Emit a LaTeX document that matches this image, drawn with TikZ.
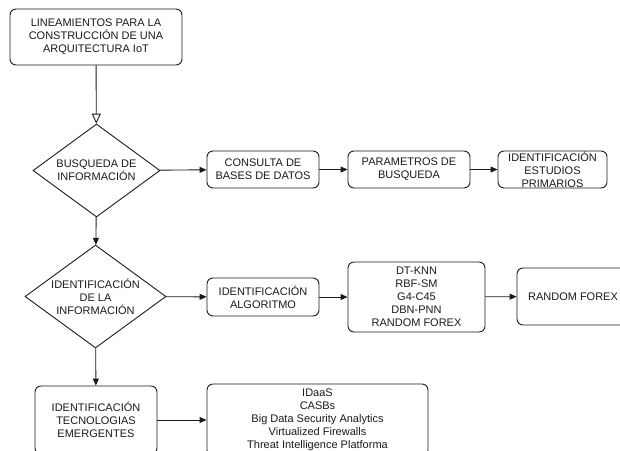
\documentclass[tikz,border=0pt]{standalone}
\usepackage{fontspec}
\setmainfont{Liberation Sans}
\usetikzlibrary{shapes.geometric, arrows.meta, positioning}
\definecolor{ink}{HTML}{1A1A1A}

\begin{document}
\begin{tikzpicture}[
    x=1pt, y=-1pt,
    box/.style={rounded corners=6pt, draw=ink, line width=0.9pt, align=center, inner sep=1pt, text=ink, font=\fontsize{11}{13}\selectfont},
    decision/.style={diamond, draw=ink, line width=0.9pt, inner sep=0pt},
    txt/.style={align=center, text=ink, font=\fontsize{11}{13}\selectfont},
    edge/.style={-{Triangle[length=7pt, width=6pt]}, line width=0.9pt, draw=ink},
    open/.style={-{Triangle[open, length=10pt, width=9pt]}, line width=0.9pt, draw=ink},
]
\path[use as bounding box, clip] (0,0) rectangle (620,450);

\node[box, minimum width=172pt, minimum height=56pt] (lin) at (96,37) {LINEAMIENTOS PARA LA\\CONSTRUCCIÓN DE UNA\\ARQUITECTURA IoT};

\node[decision, minimum width=127pt, minimum height=93pt, label={[txt]center:BUSQUEDA DE\\INFORMACIÓN}] (bus) at (96.5,170.5) {};
\node[box, minimum width=112pt, minimum height=37pt] (con) at (263,169.5) {CONSULTA DE\\BASES DE DATOS};
\node[box, minimum width=122pt, minimum height=37pt] (par) at (409,169.5) {PARAMETROS DE\\BUSQUEDA};
\node[box, minimum width=109pt, minimum height=37pt, inner ysep=0pt] (est) at (552.5,169.5) {IDENTIFICACIÓN\\ESTUDIOS\\PRIMARIOS};

\node[decision, minimum width=141pt, minimum height=103pt, label={[txt]center:IDENTIFICACIÓN\\DE LA\\INFORMACIÓN}] (ide) at (95.5,296.5) {};
\node[box, minimum width=112pt, minimum height=38pt] (alg) at (263,297) {IDENTIFICACIÓN\\ALGORITMO};
\node[box, minimum width=137pt, minimum height=70pt] (lst) at (416.5,297) {DT-KNN\\RBF-SM\\G4-C45\\DBN-PNN\\RANDOM FOREX};
\node[box, minimum width=112pt, minimum height=57pt] (rf) at (573,296.5) {RANDOM FOREX};

\node[box, minimum width=122pt, minimum height=68pt] (tec) at (96,420) {IDENTIFICACIÓN\\TECNOLOGIAS\\EMERGENTES};
\node[box, minimum width=221pt, minimum height=72pt] (herr) at (317.5,420) {IDaaS\\CASBs\\Big Data Security Analytics\\Virtualized Firewalls\\Threat Intelligence Platforma};

\draw[open] (lin) -- (bus);
\draw[edge] (bus) -- (con);
\draw[edge] (con) -- (par);
\draw[edge] (par) -- (est);
\draw[edge] (bus) -- (ide);
\draw[edge] (ide) -- (alg);
\draw[edge] (alg) -- (lst);
\draw[edge] (lst) -- (rf);
\draw[edge] (ide) -- (tec);
\draw[edge] (tec) -- (herr);

\end{tikzpicture}
\end{document}
